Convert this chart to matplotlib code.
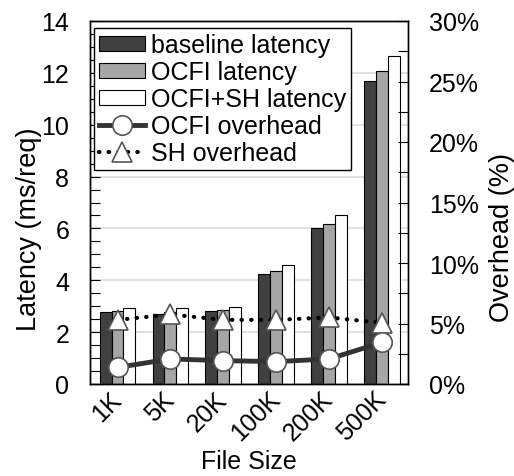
import matplotlib
matplotlib.use("Agg")
import matplotlib.pyplot as plt
import numpy as np
from matplotlib.ticker import MultipleLocator, FuncFormatter

plt.rcParams['font.family'] = ['Liberation Sans', 'DejaVu Sans']

categories = ["1K", "5K", "20K", "100K", "200K", "500K"]
baseline_latency = [2.77, 2.70, 2.80, 4.25, 6.03, 11.67]
ocfi_latency = [2.80, 2.76, 2.84, 4.35, 6.18, 12.08]
ocfi_sh_latency = [2.93, 2.93, 2.96, 4.58, 6.50, 12.64]
ocfi_overhead = [1.37, 2.07, 1.93, 1.85, 2.07, 3.44]
sh_overhead = [5.3, 5.75, 5.3, 5.3, 5.5, 5.05]

fig = plt.figure(figsize=(5.14, 4.77), dpi=100)
ax = fig.add_axes([90/514, 1-385/477, (408-90)/514, (385-22)/477])
ax2 = ax.twinx()

x = np.arange(len(categories))
w = 0.225
ax.set_axisbelow(True)
ax.yaxis.grid(True, which='major', color='#dcdcdc', linewidth=1.2)
b1 = ax.bar(x - w, baseline_latency, w, color='#404040', edgecolor='black', linewidth=0.8, label='baseline latency')
b2 = ax.bar(x, ocfi_latency, w, color='#a6a6a6', edgecolor='black', linewidth=0.8, label='OCFI latency')
b3 = ax.bar(x + w, ocfi_sh_latency, w, color='white', edgecolor='black', linewidth=0.8, label='OCFI+SH latency')

ax.set_xlim(-0.52, 5.49)
ax.set_ylim(0, 14)
ax.yaxis.set_major_locator(MultipleLocator(2))
ax.yaxis.set_minor_locator(MultipleLocator(0.5))
ax.tick_params(axis='y', which='both', direction='in', length=7, width=0.8, labelsize=18, pad=15)
ax.set_xticks(x)
ax.set_xticklabels(categories, rotation=45, ha='right', va='center', rotation_mode='anchor', fontsize=18)
ax.tick_params(axis='x', length=0, pad=8)
ax.set_xlabel("File Size", fontsize=18)
ax.xaxis.set_label_coords(0.5, -0.18)
ax.set_ylabel("Latency (ms/req)", fontsize=19.5)
ax.yaxis.set_label_coords(-0.15, 0.43)

l2, = ax2.plot(x, sh_overhead, color='black', linewidth=3, linestyle=(0, (0.1, 2.2)),
               dash_capstyle='round', marker='^', markersize=15, markerfacecolor='white',
               markeredgecolor='#555555', markeredgewidth=1.2, label='SH overhead')
l1, = ax2.plot(x, ocfi_overhead, color='#333333', linewidth=3.5, marker='o', markersize=14,
               markerfacecolor='white', markeredgecolor='#555555', markeredgewidth=1.2,
               label='OCFI overhead')
ax2.set_ylim(0, 30)
ax2.yaxis.set_major_locator(MultipleLocator(5))
ax2.yaxis.set_minor_locator(MultipleLocator(2.5))
ax2.yaxis.set_major_formatter(FuncFormatter(lambda v, p: f"{int(round(v))}%"))
ax2.tick_params(axis='y', which='both', direction='in', length=7, width=0.8, labelsize=18, pad=15)
ax2.set_ylabel("Overhead (%)", fontsize=19.5)
ax2.yaxis.set_label_coords(1.255, 0.405)

for a in (ax, ax2):
    for s in a.spines.values():
        s.set_color('black')
        s.set_linewidth(1.0)

leg = ax2.legend([b1, b2, b3, l1, l2],
                 ['baseline latency', 'OCFI latency', 'OCFI+SH latency', 'OCFI overhead', 'SH overhead'],
                 loc='upper left', bbox_to_anchor=(0.012, 0.98), fontsize=18, frameon=True,
                 fancybox=False, framealpha=1, edgecolor='black', borderpad=0.2,
                 labelspacing=0.12, handlelength=1.85, handletextpad=0.25, borderaxespad=0,
                 handleheight=0.6)
leg.get_frame().set_linewidth(1.0)

fig.savefig("out.png", dpi=100)
